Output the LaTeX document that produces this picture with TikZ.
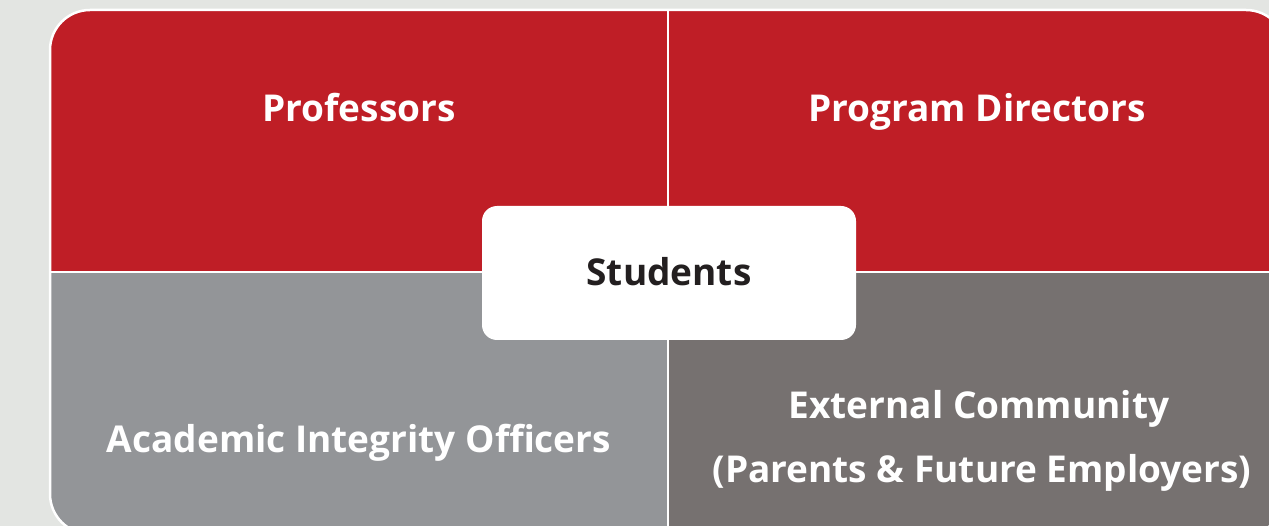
\documentclass[tikz,border=0pt]{standalone}
\usepackage{fontspec}
\setmainfont{Open Sans}
\definecolor{pagegray}{RGB}{227, 229, 226}
\definecolor{roleRed}{RGB}{191, 30, 38}
\definecolor{roleGray}{RGB}{147, 149, 152}
\definecolor{roleDark}{RGB}{118, 113, 112}
\definecolor{inkBlack}{RGB}{35, 31, 32}
\usetikzlibrary{positioning}

\begin{document}
\begin{tikzpicture}[x=1pt, y=-1pt,
    rolelabel/.style={font=\fontsize{37}{63}\selectfont\bfseries, text=white, align=center, inner sep=0pt},
    centerbox/.style={fill=white, rounded corners=15pt, minimum width=374pt, minimum height=134pt, inner sep=0pt},
    centerlabel/.style={font=\fontsize{37}{44}\selectfont\bfseries, text=inkBlack, inner sep=0pt}]
  \useasboundingbox (0,0) rectangle (1269,526);
  \fill[pagegray] (0,0) rectangle (1269,526);

  % quadrants, clipped to one big rounded panel
  \begin{scope}
    \clip[rounded corners=40pt] (50,10) rectangle (1286,534);
    \fill[roleRed]  (50,10)   rectangle (668,272);
    \fill[roleRed]  (668,10)  rectangle (1286,272);
    \fill[roleGray] (50,272)  rectangle (668,534);
    \fill[roleDark] (668,272) rectangle (1286,534);
    \draw[white, line width=2.5pt] (668,10) -- (668,534);
    \draw[white, line width=2.5pt] (50,272) -- (1286,272);
  \end{scope}
  \draw[white, line width=2.5pt, rounded corners=40pt] (50,10) rectangle (1286,534);

  % labels, set on their baselines
  \node[rolelabel, anchor=base] (prof) at (359,122) {Professors};
  \node[rolelabel, anchor=base] (dirs) at (977,122) {Program Directors};
  \node[rolelabel, anchor=base] (officers) at (359,452) {Academic Integrity Officers};
  \node[rolelabel, anchor=base] (community) at (979,418) {External Community};
  \node[rolelabel, anchor=base] (families) at (982,482) {(Parents \& Future Employers)};

  % students in the middle
  \node[centerbox] (students) at (669,273) {};
  \node[centerlabel, anchor=base] (studentsText) at (669,286) {Students};
\end{tikzpicture}
\end{document}
